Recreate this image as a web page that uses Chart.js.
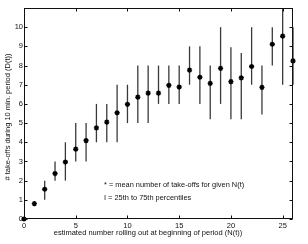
<!DOCTYPE html>
<html>
<head>
<meta charset="utf-8">
<script src="https://cdn.jsdelivr.net/npm/chart.js@4.4.1/dist/chart.umd.min.js"></script>
<style>
html, body { margin: 0; padding: 0; background: #fff; }
#wrap { width: 308px; height: 244px; position: relative; }
</style>
</head>
<body>
<div id="wrap"><canvas id="takeoffChart"></canvas></div>
<script>
// N(t): estimated number rolling out at beginning of period
const rollingOut = [0, 1, 2, 3, 4, 5, 6, 7, 8, 9, 10, 11, 12, 13, 14, 15, 16, 17, 18, 19, 20, 21, 22, 23, 24, 25, 26];
// mean number of take-offs for given N(t)
const meanTakeoffs = [0, 0.8, 1.55, 2.37, 2.97, 3.64, 4.09, 4.75, 5.05, 5.54, 5.98, 6.35, 6.56, 6.56, 6.97, 6.88, 7.76, 7.39, 7.07, 7.85, 7.16, 7.36, 7.95, 6.86, 9.11, 9.53, 8.24];
// 25th and 75th percentiles
const pct25 = [0, 1, 1, 2, 2, 3, 3, 4, 4, 4, 5, 5, 5, 6, 6, 6, 7, 6, 5.2, 6, 5.2, 5.2, 7, 5.45, 8, 7, 7];
const pct75 = [0, 1, 2, 3, 4, 5, 5, 6, 6, 7, 7, 8, 8, 8, 8, 8, 9, 9, 8, 10, 8.95, 8.65, 10, 8, 10, 11, 10];

const xTicks = [0, 5, 10, 15, 20, 25];
const yTicks = [0, 1, 2, 3, 4, 5, 6, 7, 8, 9, 10];

const xTitle = "estimated number rolling out at beginning of period (N(t))";
const yTitle = "# take-offs during 10 min. period (D(t))";
const noteLines = [
    "* = mean number of take-offs for given N(t)",
    "I = 25th to 75th percentiles"
];

const FONT = "'Liberation Sans', Arial, Helvetica, sans-serif";

// error bars under the markers, box with inward ticks, titles and note on top
const matlabFrame = {
    id: "matlabFrame",
    beforeDatasetsDraw(chart) {
        const ctx = chart.ctx;
        const xs = chart.scales.x;
        const ys = chart.scales.y;
        ctx.save();
        ctx.strokeStyle = "#3a3a3a";
        ctx.lineWidth = 1.3;
        rollingOut.forEach((n, i) => {
            if (pct25[i] === pct75[i]) {
                return;
            }
            const px = xs.getPixelForValue(n);
            ctx.beginPath();
            ctx.moveTo(px, ys.getPixelForValue(pct25[i]));
            ctx.lineTo(px, ys.getPixelForValue(pct75[i]));
            ctx.stroke();
        });
        ctx.restore();
    },
    afterDraw(chart) {
        const ctx = chart.ctx;
        const a = chart.chartArea;
        const xs = chart.scales.x;
        const ys = chart.scales.y;
        const l = Math.round(a.left) + 0.5;
        const r = Math.round(a.right) - 0.5;
        const t = Math.round(a.top) + 0.5;
        const b = Math.round(a.bottom) - 0.5;
        const tick = 3;

        ctx.save();
        ctx.strokeStyle = "#111";
        ctx.lineWidth = 1;
        ctx.strokeRect(l, t, r - l, b - t);

        ctx.beginPath();
        xTicks.forEach(v => {
            const px = Math.round(xs.getPixelForValue(v)) + 0.5;
            ctx.moveTo(px, b); ctx.lineTo(px, b - tick);
            ctx.moveTo(px, t); ctx.lineTo(px, t + tick);
        });
        yTicks.forEach(v => {
            const py = Math.round(ys.getPixelForValue(v)) + 0.5;
            ctx.moveTo(l, py); ctx.lineTo(l + tick, py);
            ctx.moveTo(r, py); ctx.lineTo(r - tick, py);
        });
        ctx.stroke();

        ctx.fillStyle = "#111";
        ctx.textBaseline = "middle";

        ctx.font = "7.5px " + FONT;
        ctx.textAlign = "center";
        ctx.fillText(xTitle, 148, 233);

        ctx.save();
        ctx.translate(8, 117);
        ctx.rotate(-Math.PI / 2);
        ctx.fillText(yTitle, 0, 0);
        ctx.restore();

        ctx.font = "7.4px " + FONT;
        ctx.textAlign = "left";
        ctx.fillText(noteLines[0], 104, 185);
        ctx.fillText(noteLines[1], 104, 198);
        ctx.restore();
    }
};

new Chart(document.getElementById("takeoffChart"), {
    type: "scatter",
    data: {
        datasets: [
            {
                label: "mean",
                data: rollingOut.map((n, i) => ({ x: n, y: meanTakeoffs[i] })),
                pointStyle: "star",
                pointRadius: 2.6,
                borderWidth: 1.4,
                borderColor: "#000",
                backgroundColor: "#000",
                clip: false
            }
        ]
    },
    options: {
        responsive: true,
        maintainAspectRatio: false,
        animation: false,
        layout: {
            padding: { left: 0, right: 15, top: 8, bottom: 0 }
        },
        plugins: {
            legend: { display: false },
            tooltip: { enabled: false }
        },
        scales: {
            x: {
                type: "linear",
                min: 0,
                max: 26,
                afterBuildTicks: s => { s.ticks = xTicks.map(v => ({ value: v })); },
                afterFit: s => { s.height = 25; },
                grid: { display: false, drawTicks: false },
                border: { display: false },
                ticks: {
                    padding: 2,
                    color: "#111",
                    font: { family: FONT, size: 7.5 },
                    maxRotation: 0
                }
            },
            y: {
                type: "linear",
                min: 0,
                max: 11,
                afterBuildTicks: s => { s.ticks = yTicks.map(v => ({ value: v })); },
                afterFit: s => { s.width = 24; },
                grid: { display: false, drawTicks: false },
                border: { display: false },
                ticks: {
                    padding: 1,
                    color: "#111",
                    font: { family: FONT, size: 7.5 }
                }
            }
        }
    },
    plugins: [matlabFrame]
});
</script>
</body>
</html>
